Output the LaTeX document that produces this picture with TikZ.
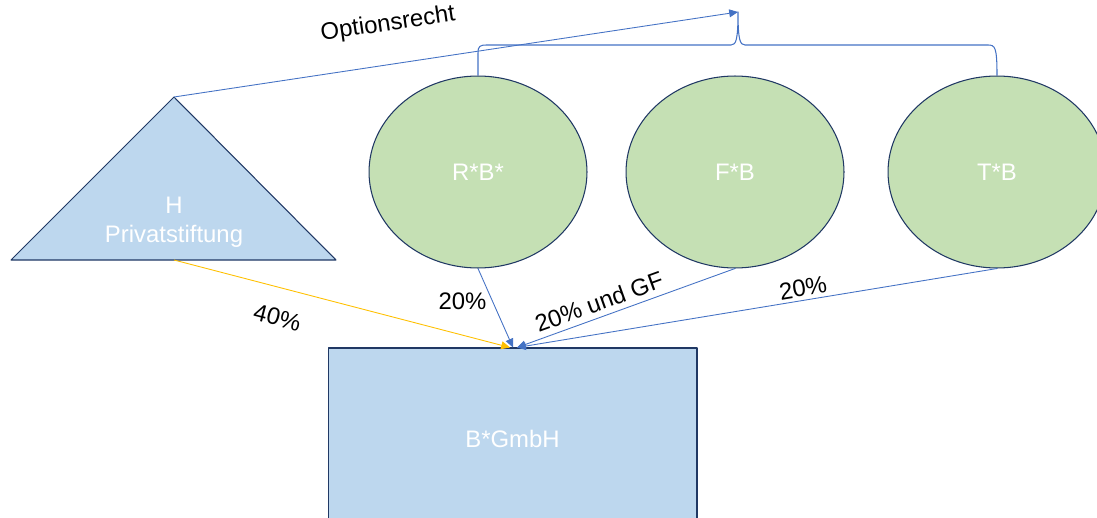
\documentclass[tikz,border=0pt]{standalone}
\usepackage{fontspec}
\setmainfont{Liberation Sans}
\usetikzlibrary{arrows.meta,shapes.geometric}
\definecolor{lineblue}{HTML}{4472C4}
\definecolor{boxblue}{HTML}{BDD7EE}
\definecolor{boxgreen}{HTML}{C5E0B4}
\definecolor{edge}{HTML}{203864}
\definecolor{gold}{HTML}{FFC000}
\tikzset{
  owner/.style={draw=edge,fill=boxgreen,ellipse,minimum width=4.36cm,minimum height=3.84cm,inner sep=0pt,text=white,line width=0.6pt},
  firm/.style={draw=edge,fill=boxblue,rectangle,minimum width=7.38cm,minimum height=3.64cm,inner sep=0pt,text=white,line width=0.6pt},
  share/.style={-{Triangle[length=5pt,width=4.5pt]},draw=lineblue,line width=0.5pt},
  lbl/.style={font=\fontsize{13.6}{16}\selectfont}
}
\begin{document}
\begin{tikzpicture}[x=0.02cm,y=-0.02cm,font=\fontsize{13.6}{16}\selectfont,line join=round]
		\useasboundingbox (0,0) rectangle (1097,517);
		\clip (0,0) rectangle (1097,517);
		% Stiftung
		\coordinate (hs) at (174,97);
		\coordinate (hb) at (174,260);
		\draw[draw=edge,fill=boxblue,line width=0.6pt] (hs)--(336,260)--(11,260)--cycle;
		\node[text=white] (hname) at (174,205) {H};
		\node[text=white] (hpriv) at (174,236) {Privatstiftung};
		% Gesellschafter
		\node[owner] (rb) at (478,172) {R*B*};
		\node[owner] (fb) at (735,172) {F*B};
		\node[owner] (tb) at (997,172) {T*B};
		\node[firm] (gm) at (512.5,439) {B*GmbH};
		% Klammer
		\coordinate (opt) at (738,12);
		\draw[lineblue,line width=0.6pt] (rb.north) -- (478,53) .. controls (478,46) and (480,45) .. (487,45)
			-- (731,45) .. controls (736,45) and (738,40) .. (opt)
			.. controls (738,40) and (740,45) .. (745,45) -- (988,45)
			.. controls (995,45) and (997,47) .. (tb.north);
		\draw[share] (hs) -- node[lbl,sloped,above=0.45cm,pos=0.39,text=black]{Optionsrecht} (opt);
		% Anteile
		\draw[share,draw=gold,-{Triangle[length=5pt,width=4.5pt,fill=gold]}] (hb) -- node[lbl,sloped,below=0.3cm,pos=0.33]{40\%} ([xshift=-0.05cm]gm.north);
		\draw[share] (rb.south) -- node[lbl,left,pos=0.42]{20\%} ([xshift=0.01cm]gm.north);
		\draw[share] (fb.south) -- node[lbl,sloped,above,pos=0.6]{20\% und GF} ([xshift=0.09cm]gm.north);
		\draw[share] (tb.south) -- node[lbl,sloped,above=-0.05cm,pos=0.4]{20\%} ([xshift=0.09cm]gm.north);
\end{tikzpicture}
\end{document}
